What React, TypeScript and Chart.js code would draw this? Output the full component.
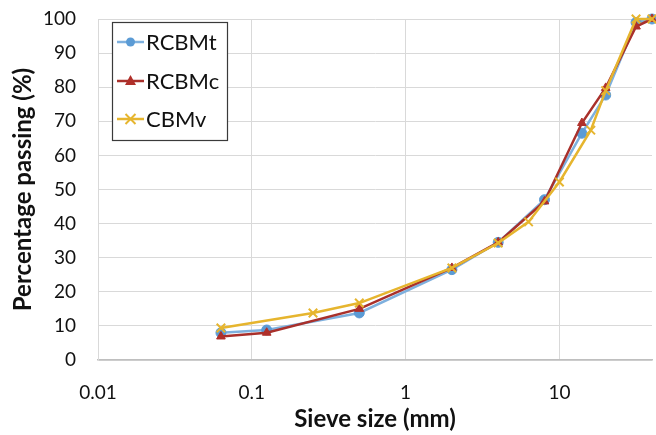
import React, { useEffect, useRef } from "react";
import { Chart, registerables } from "chart.js";

Chart.register(...registerables);

const seriesNames = ["RCBMt", "RCBMc", "CBMv"];
const rcbmtSize = [0.063, 0.125, 0.5, 2, 4, 8, 14, 20, 31.5, 40];
const rcbmtPass = [8, 8.8, 13.8, 26.5, 34.5, 47, 66.5, 77.7, 99, 100];
const rcbmcSize = [0.063, 0.125, 0.5, 2, 4, 8, 14, 20, 31.5, 40];
const rcbmcPass = [6.9, 8, 15, 27, 34.5, 46.5, 69.5, 79.8, 97.8, 100];
const cbmvSize = [0.063, 0.25, 0.5, 2, 4, 6.3, 10, 16, 20, 31.5, 40];
const cbmvPass = [9.4, 13.8, 16.7, 27, 34.3, 40.5, 52.2, 67.4, 79, 100, 100];
const xTickValues = [0.01, 0.1, 1, 10];

const FONT = "Lato, 'DejaVu Sans', sans-serif";
const colors = ["#5B9BD5", "#B0302A", "#E6B52E"];
const lineColors = ["#7EB0DE", "#A9302B", "#E6B52E"];
const markers = ["circle", "triangle", "crossRot"];

const toPts = (xs: number[], ys: number[]) => xs.map((x, i) => ({ x, y: ys[i] }));

const legendPlugin = {
  id: "boxLegend",
  afterDatasetsDraw(chart: any) {
    const ctx = chart.ctx as CanvasRenderingContext2D;
    const bx = 112, by = 22, bw = 115, bh = 118;
    ctx.save();
    ctx.fillStyle = "#ffffff";
    ctx.fillRect(bx, by, bw, bh);
    ctx.strokeStyle = "#3a3a3a";
    ctx.lineWidth = 1.2;
    ctx.strokeRect(bx + 0.5, by + 0.5, bw, bh);
    const rows = [42, 81, 119];
    seriesNames.forEach((name, i) => {
      const y = rows[i];
      ctx.strokeStyle = lineColors[i];
      ctx.lineWidth = 2.5;
      ctx.beginPath();
      ctx.moveTo(117, y);
      ctx.lineTo(144, y);
      ctx.stroke();
      ctx.fillStyle = colors[i];
      ctx.strokeStyle = colors[i];
      const cx = 130.5;
      if (i === 0) {
        ctx.beginPath();
        ctx.arc(cx, y, 4.5, 0, Math.PI * 2);
        ctx.fill();
      } else if (i === 1) {
        ctx.beginPath();
        ctx.moveTo(cx, y - 6);
        ctx.lineTo(cx + 5.5, y + 4);
        ctx.lineTo(cx - 5.5, y + 4);
        ctx.closePath();
        ctx.fill();
      } else {
        ctx.lineWidth = 2;
        ctx.beginPath();
        ctx.moveTo(cx - 5, y - 5);
        ctx.lineTo(cx + 5, y + 5);
        ctx.moveTo(cx + 5, y - 5);
        ctx.lineTo(cx - 5, y + 5);
        ctx.stroke();
      }
      ctx.fillStyle = "#111111";
      ctx.font = `22px ${FONT}`;
      ctx.textBaseline = "middle";
      ctx.textAlign = "left";
      ctx.fillText(name, 146, y + 1);
    });
    ctx.restore();
  },
};

export default function App() {
  const ref = useRef<HTMLCanvasElement | null>(null);
  useEffect(() => {
    if (!ref.current) return;
    const data = [
      toPts(rcbmtSize, rcbmtPass),
      toPts(rcbmcSize, rcbmcPass),
      toPts(cbmvSize, cbmvPass),
    ];
    const chart = new Chart(ref.current, {
      type: "line",
      data: {
        datasets: data.map((d, i) => ({
          label: seriesNames[i],
          data: d,
          order: 3 - i,
          borderColor: lineColors[i],
          backgroundColor: colors[i],
          pointBackgroundColor: colors[i],
          pointBorderColor: colors[i],
          pointStyle: markers[i] as any,
          pointRadius: i === 2 ? 6 : 5,
          pointBorderWidth: i === 2 ? 2 : 1,
          borderWidth: 2.5,
          tension: 0,
          fill: false,
          clip: false as any,
        })),
      },
      options: {
        animation: false,
        responsive: false,
        layout: { autoPadding: false, padding: { top: 19, right: 4, left: 0, bottom: 0 } },
        plugins: { legend: { display: false }, tooltip: { enabled: false } },
        scales: {
          x: {
            type: "logarithmic",
            min: 0.01,
            max: 40,
            afterBuildTicks: (scale: any) => {
              scale.ticks = xTickValues.map((v) => ({ value: v }));
            },
            afterFit: (scale: any) => {
              scale.height = 75;
            },
            ticks: {
              autoSkip: false,
              maxRotation: 0,
              padding: 21,
              color: "#111111",
              font: { family: FONT, size: 19 },
              callback: (v: any) => String(v),
            },
            grid: { color: "#d9d9d9", lineWidth: 1, drawTicks: false },
            border: { color: "#bfbfbf", width: 1.5 },
            title: {
              display: true,
              text: "Sieve size (mm)",
              color: "#111111",
              font: { family: FONT, size: 24, weight: "bold" },
              padding: { top: 1, bottom: 1 },
            },
          },
          y: {
            min: 0,
            max: 100,
            afterFit: (scale: any) => {
              scale.width = 98;
            },
            ticks: {
              stepSize: 10,
              padding: 0,
              color: "#111111",
              font: { family: FONT, size: 19 },
            },
            grid: {
              color: "#d9d9d9",
              lineWidth: 1,
              drawTicks: true,
              tickLength: 22,
              tickColor: "rgba(0,0,0,0)",
            },
            border: { color: "#d9d9d9", width: 1 },
            title: {
              display: true,
              text: "Percentage passing (%)",
              color: "#111111",
              font: { family: FONT, size: 24, weight: "bold" },
              padding: { top: 9, bottom: 0 },
            },
          },
        },
      },
      plugins: [legendPlugin],
    });
    return () => chart.destroy();
  }, []);
  return (
    <div style={{ position: "fixed", left: 0, top: 0, width: 656, height: 435, background: "#fff" }}>
      <canvas ref={ref} width={656} height={435} style={{ display: "block" }} />
    </div>
  );
}
